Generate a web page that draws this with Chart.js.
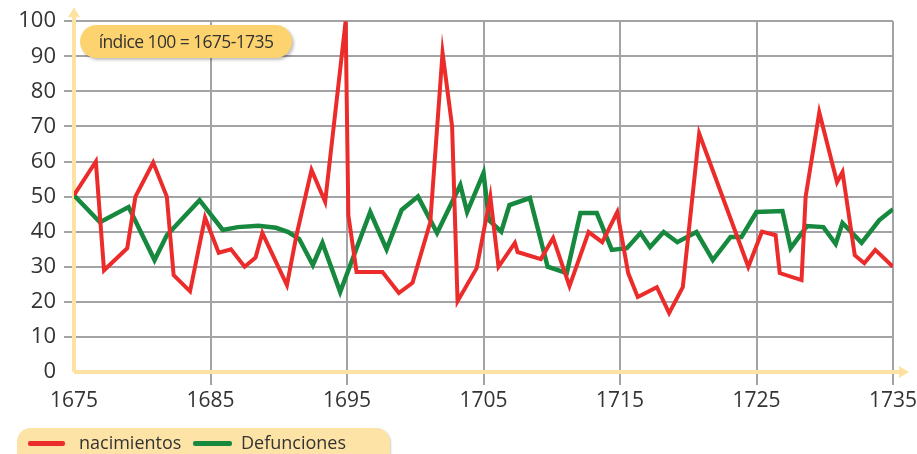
<!DOCTYPE html>
<html>
<head>
<meta charset="utf-8">
<script src="https://cdn.jsdelivr.net/npm/chart.js@4"></script>
<style>
  html, body { margin: 0; padding: 0; background: #fff; }
  #wrap { position: relative; width: 917px; height: 454px; overflow: hidden; font-family: "Open Sans", sans-serif; }
  canvas { position: absolute; left: 0; top: 0; }
  .pill {
    position: absolute; left: 80px; top: 25px; width: 212px; height: 33px;
    background: #fcd36f; border-radius: 17px; box-shadow: 2px 2px 3px rgba(0,0,0,0.25);
    color: #333; font-size: 17.5px; line-height: 33px; text-align: center; letter-spacing: -0.6px;
  }
  .legend {
    position: absolute; left: 17px; top: 428px; width: 373px; height: 40px;
    background: #fde4a6; border-radius: 14px; box-shadow: 1px 1px 2px rgba(0,0,0,0.2);
    color: #333; font-size: 18px;
  }
  .legend span { position: absolute; top: 2px; }
  .legend i { position: absolute; top: 13px; height: 5px; border-radius: 2px; }
</style>
</head>
<body>
<div id="wrap">
  <canvas id="c" width="917" height="454"></canvas>
  <div class="pill">índice 100 = 1675-1735</div>
  <div class="legend">
    <i style="left:11px;width:37px;background:#ec2b2b"></i><span style="left:62px">nacimientos</span>
    <i style="left:176px;width:39px;background:#16893f"></i><span style="left:224px">Defunciones</span>
  </div>
</div>
<script>
// years / values (points are not strictly yearly)
const birthYears = [1675, 1676.6, 1677.2, 1678.9, 1679.5, 1680.8, 1681.8, 1682.3, 1683.5, 1684.6,
  1685.6, 1686.5, 1687.5, 1688.3, 1688.8, 1690.6, 1691.3, 1692.4, 1693.4, 1694.9,
  1695.1, 1695.7, 1697.6, 1698.8, 1699.8, 1701.1, 1702, 1702.7, 1703.1, 1704.5,
  1705.5, 1706.1, 1707.3, 1707.5, 1709.2, 1710.1, 1711.3, 1712.7, 1713.7, 1714.8,
  1715.6, 1716.3, 1717.7, 1718.6, 1719.6, 1720.8, 1724.4, 1725.4, 1726.4, 1726.7,
  1728.3, 1728.6, 1729.6, 1730.9, 1731.3, 1732.2, 1732.9, 1733.7, 1735];
const birthValues = [50.4, 60, 29, 35.3, 50, 59.7, 50, 27.6, 23, 44,
  34, 35, 30, 32.6, 39.6, 24.8, 39, 57.6, 48.5, 100,
  44.7, 28.5, 28.5, 22.5, 25.4, 42.7, 91, 70, 20.2, 29.6,
  50, 30, 36.8, 34.2, 32.2, 38.2, 24.5, 39.9, 37, 45.6,
  28.2, 21.4, 24.2, 16.8, 24.2, 68, 30, 40, 39, 28.2,
  26.2, 50, 74, 54.1, 57, 33.3, 31, 34.8, 30];

const deathYears = [1675, 1676.9, 1679, 1680.9, 1681.8, 1684.2, 1685.9, 1687, 1688.5, 1689.8,
  1690.7, 1691.5, 1692.5, 1693.2, 1694.5, 1696.7, 1697.9, 1699, 1700.2, 1701.6,
  1703.3, 1703.8, 1705, 1705.4, 1706.3, 1706.9, 1708.4, 1709.7, 1711.1, 1712.1,
  1713.3, 1714.4, 1715.5, 1716.5, 1717.2, 1718.2, 1719.2, 1720.6, 1721.8, 1723.1,
  1723.9, 1725, 1726.9, 1727.5, 1728.7, 1729.9, 1730.8, 1731.3, 1732.7, 1734, 1735];
const deathValues = [50.4, 42.7, 47, 31.9, 39, 49, 40.5, 41.3, 41.7, 41.1,
  39.9, 37.9, 30.5, 36.8, 22.8, 45.6, 35, 46.2, 50, 39.6,
  53.3, 45.6, 56.7, 43.3, 40, 47.6, 49.6, 30, 28.2, 45.3,
  45.3, 34.8, 35.3, 39.6, 35.6, 39.9, 37, 39.9, 31.9, 38.5,
  38.5, 45.6, 45.9, 35.3, 41.6, 41.3, 36.5, 42.5, 36.8, 43.3, 46.4];

const xTicks = [1675, 1685, 1695, 1705, 1715, 1725, 1735];
const yTicks = [0, 10, 20, 30, 40, 50, 60, 70, 80, 90, 100];

const axisColor = '#fde2a2';
const gridColor = '#a3a3a5';

// yellow axes with arrows, drawn under the lines
const axesPlugin = {
  id: 'axes',
  beforeDatasetsDraw(chart) {
    const ctx = chart.ctx;
    const a = chart.chartArea;
    ctx.save();
    ctx.strokeStyle = axisColor;
    ctx.fillStyle = axisColor;
    ctx.lineWidth = 4;
    ctx.beginPath();
    ctx.moveTo(a.left, a.bottom);
    ctx.lineTo(a.left, a.top - 6);
    ctx.moveTo(a.left, a.bottom);
    ctx.lineTo(a.right + 8, a.bottom);
    ctx.stroke();
    ctx.beginPath();
    ctx.moveTo(a.left - 6, a.top - 4);
    ctx.lineTo(a.left, a.top - 14);
    ctx.lineTo(a.left + 6, a.top - 4);
    ctx.fill();
    ctx.beginPath();
    ctx.moveTo(a.right + 6, a.bottom - 6);
    ctx.lineTo(a.right + 16, a.bottom);
    ctx.lineTo(a.right + 6, a.bottom + 6);
    ctx.fill();
    ctx.restore();
  }
};

new Chart(document.getElementById('c'), {
  type: 'line',
  data: {
    datasets: [
      {
        label: 'nacimientos',
        data: birthYears.map((x, i) => ({ x, y: birthValues[i] })),
        borderColor: '#ec2b2b',
        borderWidth: 4,
        pointRadius: 0,
        tension: 0
      },
      {
        label: 'Defunciones',
        data: deathYears.map((x, i) => ({ x, y: deathValues[i] })),
        borderColor: '#16893f',
        borderWidth: 4.5,
        pointRadius: 0,
        tension: 0
      }
    ]
  },
  options: {
    responsive: false,
    animation: false,
    layout: { padding: { left: 0, right: 24, top: 21, bottom: 0 } },
    plugins: { legend: { display: false }, tooltip: { enabled: false } },
    scales: {
      x: {
        type: 'linear',
        min: 1675,
        max: 1735,
        afterBuildTicks: (s) => { s.ticks = xTicks.map(v => ({ value: v })); },
        afterFit: (s) => { s.height = 82; s.paddingLeft = 0; s.paddingRight = 0; },
        ticks: {
          color: '#333',
          font: { family: 'Open Sans', size: 21 },
          padding: 3,
          callback: (v) => String(v)
        },
        grid: {
          color: (c) => c.tick && c.tick.value === 1675 ? 'rgba(0,0,0,0)' : gridColor,
          lineWidth: 2,
          tickLength: 13
        },
        border: { display: false }
      },
      y: {
        min: 0,
        max: 100,
        afterBuildTicks: (s) => { s.ticks = yTicks.map(v => ({ value: v })); },
        afterFit: (s) => { s.width = 74; },
        ticks: {
          color: '#333',
          font: { family: 'Open Sans', size: 22 },
          padding: 8
        },
        grid: {
          color: (c) => c.tick && c.tick.value === 0 ? 'rgba(0,0,0,0)' : gridColor,
          lineWidth: 2,
          tickLength: 10
        },
        border: { display: false }
      }
    }
  },
  plugins: [axesPlugin]
});
</script>
</body>
</html>
